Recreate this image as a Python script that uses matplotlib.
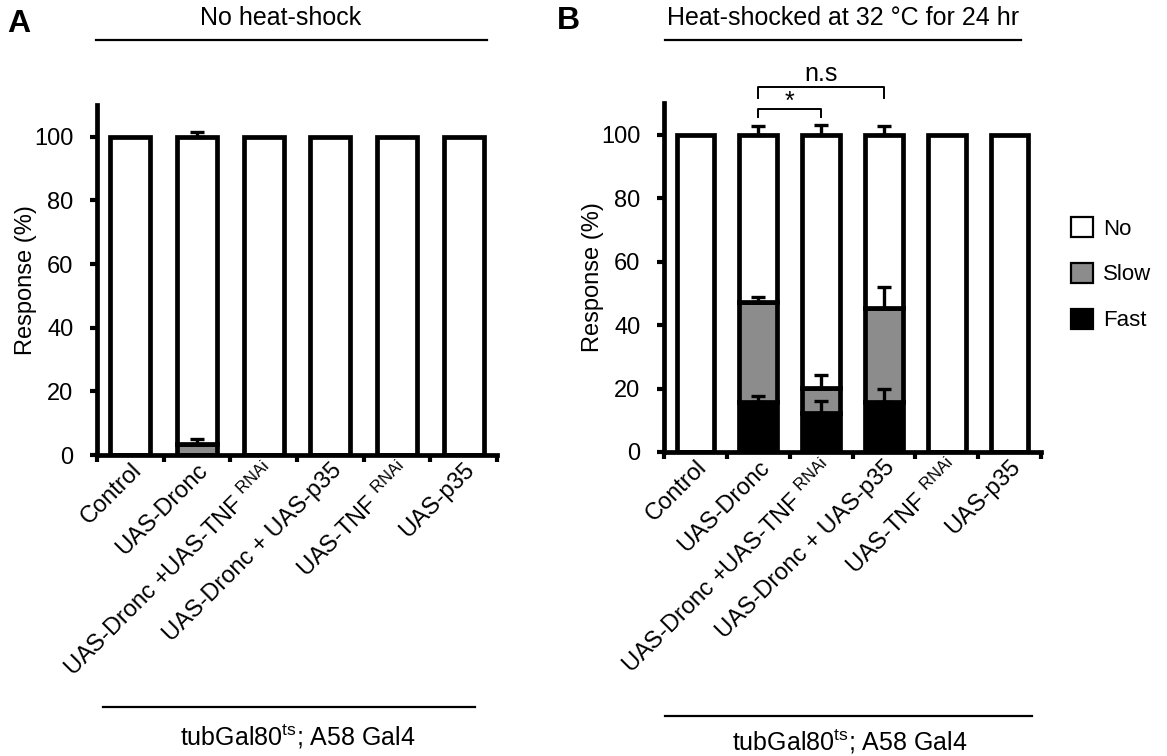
import numpy as np
import matplotlib
matplotlib.use("Agg")
import matplotlib.pyplot as plt
from matplotlib.patches import Patch

plt.rcParams['font.family'] = ['Liberation Sans', 'DejaVu Sans']
plt.rcParams['mathtext.default'] = 'regular'
plt.rcParams['font.size'] = 17

# data
labels = ['Control', 'UAS-Dronc', 'UAS-Dronc +UAS-TNF $^{RNAi}$',
          'UAS-Dronc + UAS-p35', 'UAS-TNF $^{RNAi}$', 'UAS-p35']

# panel A (no heat-shock)
a_fast = [0, 0, 0, 0, 0, 0]
a_slow = [0, 3.5, 0, 0, 0, 0]
a_fast_err = [0, 0, 0, 0, 0, 0]
a_slow_err = [0, 1.4, 0, 0, 0, 0]
a_no_err = [0, 1.5, 0, 0, 0, 0]

# panel B (heat-shocked)
b_fast = [0, 15.8, 12.4, 15.8, 0, 0]
b_slow = [0, 31.5, 7.9, 29.6, 0, 0]
b_fast_err = [0, 1.8, 3.7, 3.9, 0, 0]
b_slow_err = [0, 1.4, 3.9, 6.6, 0, 0]
b_no_err = [0, 2.6, 3.0, 2.6, 0, 0]

W, H = 1167, 756
fig = plt.figure(figsize=(W / 100, H / 100), dpi=100)

def px(x0, y0, x1, y1):
    return [x0 / W, 1 - y1 / H, (x1 - x0) / W, (y1 - y0) / H]

axA = fig.add_axes(px(97, 105, 497, 455))
axB = fig.add_axes(px(664, 103, 1041, 452))

def draw(ax, fast, slow, fe, se, ne):
    x = np.arange(len(labels))
    fast = np.array(fast, float)
    slow = np.array(slow, float)
    no = 100 - fast - slow
    kw = dict(width=0.6, edgecolor='black', linewidth=3.4, zorder=2)
    ax.bar(x, fast, color='black', **kw)
    ax.bar(x, slow, bottom=fast, color='#8c8c8c', **kw)
    ax.bar(x, no, bottom=fast + slow, color='white', **kw)
    ekw = dict(fmt='none', ecolor='black', elinewidth=2.4, capsize=5, capthick=2.4, zorder=3)
    for i in x:
        if fe[i] > 0:
            ax.errorbar(i, fast[i], yerr=[[0], [fe[i]]], **ekw)
        if se[i] > 0:
            ax.errorbar(i, fast[i] + slow[i], yerr=[[0], [se[i]]], **ekw)
        if ne[i] > 0:
            ax.errorbar(i, 100, yerr=[[0], [ne[i]]], **ekw)
    ax.set_xlim(-0.5, 5.5)
    ax.set_ylim(0, 110)
    ax.set_yticks([0, 20, 40, 60, 80, 100])
    ax.set_xticks(x)
    ax.set_xticklabels(labels, rotation=45, ha='right', va='top', rotation_mode='anchor')
    ax.set_xticks(np.arange(-0.5, 6, 1), minor=True)
    ax.tick_params(axis='x', which='major', length=0, pad=3)
    ax.tick_params(axis='x', which='minor', length=5, width=3, direction='out')
    ax.tick_params(axis='y', length=5, width=3, direction='out', pad=12)
    for s in ['top', 'right']:
        ax.spines[s].set_visible(False)
    for s in ['left', 'bottom']:
        ax.spines[s].set_linewidth(3.4)
    ax.set_ylabel('Response (%)', labelpad=-2)

draw(axA, a_fast, a_slow, a_fast_err, a_slow_err, a_no_err)
draw(axB, b_fast, b_slow, b_fast_err, b_slow_err, b_no_err)

# significance brackets on B
def bracket(ax, x0, x1, y, h, txt, dy):
    ax.plot([x0, x0, x1, x1], [y - h, y, y, y - h], color='black', lw=1.4, clip_on=False)
    ax.text((x0 + x1) / 2, y + dy, txt, ha='center', va='bottom', fontsize=18, clip_on=False)

bracket(axB, 1, 2, 108.2, 2.5, '*', -1.5)
bracket(axB, 1, 3, 115.1, 3.6, 'n.s', 0.3)

# headers and footers
def hline(x0, x1, y):
    fig.add_artist(plt.Line2D([x0 / W, x1 / W], [1 - y / H, 1 - y / H], color='black', lw=1.6))

fig.text(7 / W, 1 - 24 / H, 'A', fontsize=23, fontweight='bold', va='center')
fig.text(557 / W, 1 - 21 / H, 'B', fontsize=23, fontweight='bold', va='center')
fig.text(281 / W, 1 - 18 / H, 'No heat-shock', ha='center', va='center', fontsize=18)
fig.text(843 / W, 1 - 18 / H, 'Heat-shocked at 32 \u00b0C for 24 hr', ha='center', va='center', fontsize=18)
hline(96, 487, 40)
hline(665, 1021, 40)

hline(103, 475, 707)
hline(665, 1032, 716)
fig.text(298 / W, 1 - 737 / H, 'tubGal80$^{ts}$; A58 Gal4', ha='center', va='center', fontsize=18)
fig.text(850 / W, 1 - 742 / H, 'tubGal80$^{ts}$; A58 Gal4', ha='center', va='center', fontsize=18)

# legend
handles = [Patch(facecolor='white', edgecolor='black', lw=1.6, label='No'),
           Patch(facecolor='#8c8c8c', edgecolor='black', lw=1.6, label='Slow'),
           Patch(facecolor='black', edgecolor='black', lw=1.6, label='Fast')]
fig.legend(handles=handles, loc='upper left', bbox_to_anchor=(1071 / W, 1 - 217 / H),
           frameon=False, handlelength=1.0, handleheight=1.0, labelspacing=1.05,
           handletextpad=0.45, fontsize=16, borderpad=0, borderaxespad=0)

fig.savefig('out.png', dpi=100)
